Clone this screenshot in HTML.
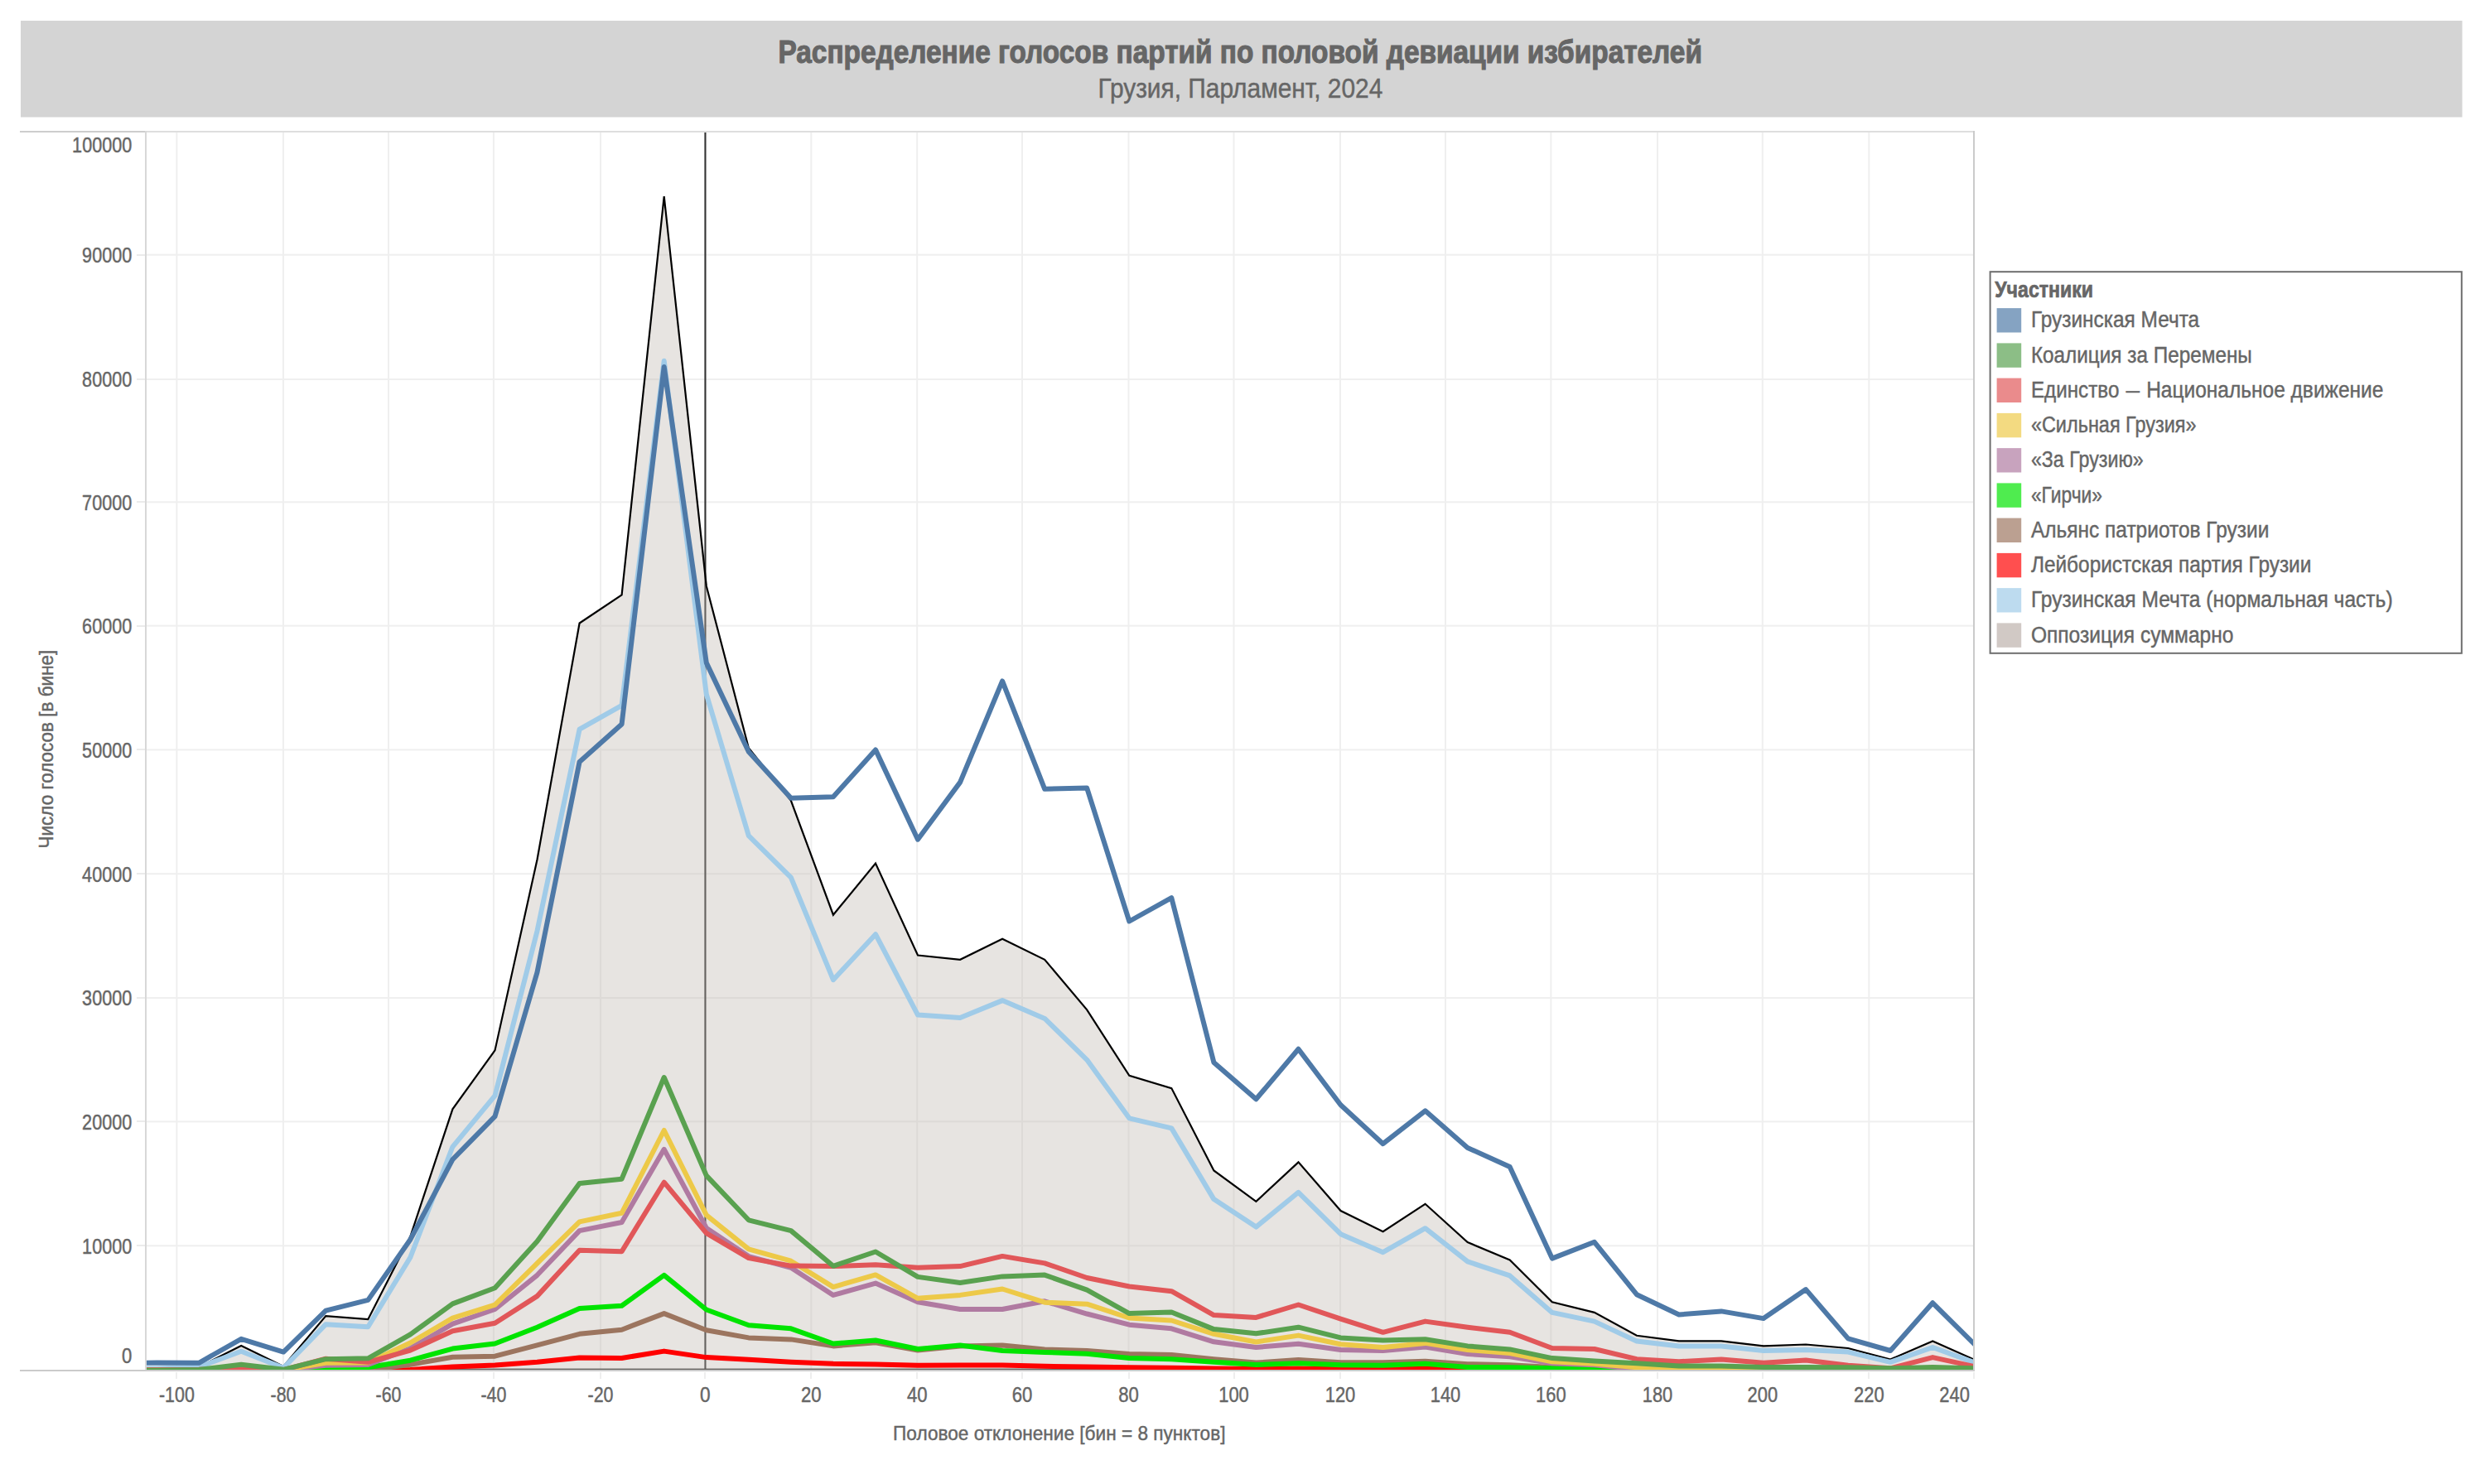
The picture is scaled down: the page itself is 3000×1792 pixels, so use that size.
<!DOCTYPE html>
<html lang="ru"><head><meta charset="utf-8"><title>Распределение голосов партий по половой девиации избирателей</title>
<style>html,body{margin:0;padding:0;background:#fff;}body{width:3000px;height:1792px;overflow:hidden;}svg{display:block;}text{font-family:"Liberation Sans", sans-serif;fill:#666666;stroke:#666666;stroke-width:0.45px;}.b{stroke-width:1.1px;}</style>
</head><body>
<svg width="3000" height="1792" viewBox="0 0 3000 1792">
<rect x="0" y="0" width="3000" height="1792" fill="#ffffff"/>
<rect x="25" y="25" width="2947.5" height="116.5" fill="#d4d4d4"/>
<text x="1497.2" y="76" class="b" font-size="38.5" font-weight="bold" text-anchor="middle" textLength="1115.5" lengthAdjust="spacingAndGlyphs">Распределение голосов партий по половой девиации избирателей</text>
<text x="1497.4" y="118.2" font-size="33.5" text-anchor="middle" textLength="344" lengthAdjust="spacingAndGlyphs">Грузия, Парламент, 2024</text>
<g id="grid">
<rect x="212.4" y="160" width="2" height="1494" fill="#efefef"/>
<rect x="341.0" y="160" width="2" height="1494" fill="#efefef"/>
<rect x="468.0" y="160" width="2" height="1494" fill="#efefef"/>
<rect x="594.9" y="160" width="2" height="1494" fill="#efefef"/>
<rect x="724.0" y="160" width="2" height="1494" fill="#efefef"/>
<rect x="978.3" y="160" width="2" height="1494" fill="#efefef"/>
<rect x="1106.2" y="160" width="2" height="1494" fill="#efefef"/>
<rect x="1233.0" y="160" width="2" height="1494" fill="#efefef"/>
<rect x="1361.5" y="160" width="2" height="1494" fill="#efefef"/>
<rect x="1488.5" y="160" width="2" height="1494" fill="#efefef"/>
<rect x="1617.0" y="160" width="2" height="1494" fill="#efefef"/>
<rect x="1744.0" y="160" width="2" height="1494" fill="#efefef"/>
<rect x="1871.4" y="160" width="2" height="1494" fill="#efefef"/>
<rect x="2000.0" y="160" width="2" height="1494" fill="#efefef"/>
<rect x="2126.8" y="160" width="2" height="1494" fill="#efefef"/>
<rect x="2255.3" y="160" width="2" height="1494" fill="#efefef"/>
<rect x="176" y="1503.3" width="2206" height="2" fill="#efefef"/>
<rect x="176" y="1353.4" width="2206" height="2" fill="#efefef"/>
<rect x="176" y="1204.1" width="2206" height="2" fill="#efefef"/>
<rect x="176" y="1054.2" width="2206" height="2" fill="#efefef"/>
<rect x="176" y="904.4" width="2206" height="2" fill="#efefef"/>
<rect x="176" y="754.6" width="2206" height="2" fill="#efefef"/>
<rect x="176" y="605.3" width="2206" height="2" fill="#efefef"/>
<rect x="176" y="457.1" width="2206" height="2" fill="#efefef"/>
<rect x="176" y="306.7" width="2206" height="2" fill="#efefef"/>
</g>
<defs><clipPath id="cp"><rect x="176.5" y="160.0" width="2205.5" height="1494.0"/></clipPath></defs>
<g clip-path="url(#cp)">
<rect x="850.4" y="158.6" width="2.1" height="1496" fill="#333333"/>
<rect x="176" y="1652.6" width="2206" height="1.4" fill="#333333"/>
<polygon points="138.0,1654.7 138.0,1652.4 189.1,1651.7 240.1,1650.9 291.2,1624.9 342.2,1649.9 393.3,1589.1 444.3,1593.2 495.4,1493.1 546.4,1339.3 597.5,1268.4 648.5,1038.0 699.6,752.5 750.6,718.4 801.7,237.2 852.8,707.7 903.8,903.3 954.9,966.8 1005.9,1104.7 1057.0,1042.5 1108.0,1153.5 1159.1,1158.8 1210.1,1133.7 1261.2,1158.8 1312.2,1219.3 1363.3,1298.9 1414.3,1314.1 1465.4,1413.5 1516.4,1450.9 1567.5,1403.4 1618.5,1462.0 1669.6,1487.2 1720.6,1453.8 1771.7,1500.1 1822.7,1521.4 1873.8,1572.3 1924.8,1584.9 1975.9,1612.8 2026.9,1619.3 2078.0,1619.3 2129.0,1625.4 2180.1,1623.5 2231.1,1628.0 2282.2,1641.5 2333.2,1619.5 2384.3,1642.1 2384.3,1654.7" fill="#bcb4ac" fill-opacity="0.36"/>
<polyline points="138.0,1652.4 189.1,1651.7 240.1,1650.9 291.2,1624.9 342.2,1649.9 393.3,1589.1 444.3,1593.2 495.4,1493.1 546.4,1339.3 597.5,1268.4 648.5,1038.0 699.6,752.5 750.6,718.4 801.7,237.2 852.8,707.7 903.8,903.3 954.9,966.8 1005.9,1104.7 1057.0,1042.5 1108.0,1153.5 1159.1,1158.8 1210.1,1133.7 1261.2,1158.8 1312.2,1219.3 1363.3,1298.9 1414.3,1314.1 1465.4,1413.5 1516.4,1450.9 1567.5,1403.4 1618.5,1462.0 1669.6,1487.2 1720.6,1453.8 1771.7,1500.1 1822.7,1521.4 1873.8,1572.3 1924.8,1584.9 1975.9,1612.8 2026.9,1619.3 2078.0,1619.3 2129.0,1625.4 2180.1,1623.5 2231.1,1628.0 2282.2,1641.5 2333.2,1619.5 2384.3,1642.1" fill="none" stroke="#000000" stroke-width="2.2" stroke-linejoin="miter"/>
<polyline points="138.0,1652.7 189.1,1652.4 240.1,1650.8 291.2,1631.7 342.2,1651.8 393.3,1599.2 444.3,1602.2 495.4,1518.3 546.4,1384.8 597.5,1323.2 648.5,1124.2 699.6,880.7 750.6,851.9 801.7,435.8 852.8,838.3 903.8,1009.2 954.9,1059.7 1005.9,1183.2 1057.0,1128.2 1108.0,1225.6 1159.1,1229.0 1210.1,1208.1 1261.2,1229.9 1312.2,1279.8 1363.3,1350.3 1414.3,1362.4 1465.4,1448.1 1516.4,1481.6 1567.5,1439.8 1618.5,1490.2 1669.6,1512.2 1720.6,1483.2 1771.7,1523.4 1822.7,1540.4 1873.8,1584.9 1924.8,1595.6 1975.9,1619.6 2026.9,1625.4 2078.0,1625.4 2129.0,1631.0 2180.1,1630.0 2231.1,1632.6 2282.2,1644.8 2333.2,1627.0 2384.3,1645.6" fill="none" stroke="#a0cbe8" stroke-width="6" stroke-linejoin="round" stroke-linecap="round"/>
<polyline points="138.0,1654.7 189.1,1654.7 240.1,1654.7 291.2,1654.7 342.2,1654.7 393.3,1654.7 444.3,1654.7 495.4,1653.9 546.4,1650.5 597.5,1648.4 648.5,1644.8 699.6,1639.5 750.6,1640.0 801.7,1631.6 852.8,1639.1 903.8,1641.8 954.9,1644.8 1005.9,1646.8 1057.0,1647.4 1108.0,1648.8 1159.1,1648.4 1210.1,1648.6 1261.2,1649.8 1312.2,1650.6 1363.3,1651.2 1414.3,1651.7 1465.4,1652.4 1516.4,1652.9 1567.5,1652.4 1618.5,1653.3 1669.6,1653.3 1720.6,1652.4 1771.7,1653.9 1822.7,1654.4 1873.8,1654.4 1924.8,1654.4 1975.9,1654.5 2026.9,1654.5 2078.0,1654.5 2129.0,1654.5 2180.1,1654.5 2231.1,1654.5 2282.2,1654.6 2333.2,1654.5 2384.3,1654.6" fill="none" stroke="#ff0000" stroke-width="6" stroke-linejoin="round" stroke-linecap="round"/>
<polyline points="138.0,1654.7 189.1,1654.7 240.1,1654.7 291.2,1654.7 342.2,1654.7 393.3,1654.7 444.3,1654.7 495.4,1647.8 546.4,1638.8 597.5,1637.7 648.5,1624.3 699.6,1610.8 750.6,1605.7 801.7,1586.1 852.8,1606.3 903.8,1615.4 954.9,1617.4 1005.9,1625.4 1057.0,1621.3 1108.0,1630.6 1159.1,1625.4 1210.1,1624.5 1261.2,1629.4 1312.2,1631.0 1363.3,1635.1 1414.3,1636.1 1465.4,1641.2 1516.4,1645.6 1567.5,1642.1 1618.5,1645.2 1669.6,1645.2 1720.6,1643.8 1771.7,1647.2 1822.7,1648.2 1873.8,1650.9 1924.8,1652.3 1975.9,1653.8 2026.9,1654.4 2078.0,1654.4 2129.0,1654.4 2180.1,1654.4 2231.1,1654.4 2282.2,1654.5 2333.2,1654.4 2384.3,1654.5" fill="none" stroke="#9c755f" stroke-width="6" stroke-linejoin="round" stroke-linecap="round"/>
<polyline points="138.0,1654.7 189.1,1654.7 240.1,1654.7 291.2,1654.7 342.2,1654.7 393.3,1650.9 444.3,1651.2 495.4,1642.7 546.4,1628.6 597.5,1622.5 648.5,1602.7 699.6,1580.0 750.6,1576.8 801.7,1539.9 852.8,1581.5 903.8,1600.3 954.9,1604.3 1005.9,1622.5 1057.0,1618.5 1108.0,1629.0 1159.1,1624.5 1210.1,1631.0 1261.2,1633.0 1312.2,1634.7 1363.3,1640.1 1414.3,1641.2 1465.4,1644.8 1516.4,1648.0 1567.5,1646.2 1618.5,1648.2 1669.6,1648.8 1720.6,1646.8 1771.7,1650.9 1822.7,1651.2 1873.8,1652.3 1924.8,1652.9 1975.9,1653.9 2026.9,1654.4 2078.0,1654.4 2129.0,1654.4 2180.1,1654.4 2231.1,1654.4 2282.2,1654.5 2333.2,1654.4 2384.3,1654.5" fill="none" stroke="#00e400" stroke-width="6" stroke-linejoin="round" stroke-linecap="round"/>
<polyline points="138.0,1654.4 189.1,1654.2 240.1,1654.1 291.2,1653.8 342.2,1654.2 393.3,1648.7 444.3,1647.9 495.4,1628.2 546.4,1598.6 597.5,1581.0 648.5,1539.8 699.6,1486.1 750.6,1476.0 801.7,1387.8 852.8,1482.9 903.8,1517.1 954.9,1530.8 1005.9,1563.9 1057.0,1549.6 1108.0,1572.3 1159.1,1581.0 1210.1,1581.0 1261.2,1571.3 1312.2,1586.5 1363.3,1599.7 1414.3,1604.3 1465.4,1620.3 1516.4,1627.0 1567.5,1622.7 1618.5,1630.0 1669.6,1631.0 1720.6,1626.6 1771.7,1635.1 1822.7,1638.2 1873.8,1646.2 1924.8,1648.2 1975.9,1653.3 2026.9,1653.8 2078.0,1653.9 2129.0,1654.1 2180.1,1654.1 2231.1,1654.2 2282.2,1654.4 2333.2,1654.1 2384.3,1654.4" fill="none" stroke="#b07aa1" stroke-width="6" stroke-linejoin="round" stroke-linecap="round"/>
<polyline points="138.0,1654.4 189.1,1654.2 240.1,1653.9 291.2,1653.2 342.2,1654.2 393.3,1645.8 444.3,1645.4 495.4,1621.5 546.4,1591.7 597.5,1575.6 648.5,1525.5 699.6,1475.4 750.6,1464.8 801.7,1365.0 852.8,1467.3 903.8,1508.3 954.9,1522.7 1005.9,1554.1 1057.0,1539.4 1108.0,1567.8 1159.1,1563.9 1210.1,1556.5 1261.2,1572.7 1312.2,1574.7 1363.3,1591.5 1414.3,1594.5 1465.4,1610.8 1516.4,1620.5 1567.5,1612.6 1618.5,1623.3 1669.6,1627.0 1720.6,1621.9 1771.7,1630.0 1822.7,1634.1 1873.8,1644.2 1924.8,1646.8 1975.9,1651.2 2026.9,1653.3 2078.0,1653.5 2129.0,1653.8 2180.1,1653.8 2231.1,1653.9 2282.2,1654.2 2333.2,1653.8 2384.3,1654.2" fill="none" stroke="#edc948" stroke-width="6" stroke-linejoin="round" stroke-linecap="round"/>
<polyline points="138.0,1654.4 189.1,1654.2 240.1,1653.8 291.2,1651.8 342.2,1654.1 393.3,1640.7 444.3,1644.8 495.4,1630.6 546.4,1607.3 597.5,1597.8 648.5,1565.1 699.6,1509.7 750.6,1511.2 801.7,1427.7 852.8,1489.2 903.8,1519.1 954.9,1528.6 1005.9,1529.1 1057.0,1527.3 1108.0,1530.8 1159.1,1529.1 1210.1,1516.9 1261.2,1525.4 1312.2,1543.0 1363.3,1553.5 1414.3,1559.2 1465.4,1588.1 1516.4,1590.9 1567.5,1575.5 1618.5,1592.6 1669.6,1608.8 1720.6,1595.6 1771.7,1602.7 1822.7,1608.8 1873.8,1628.0 1924.8,1629.0 1975.9,1641.2 2026.9,1644.2 2078.0,1641.5 2129.0,1645.8 2180.1,1642.5 2231.1,1648.8 2282.2,1652.3 2333.2,1639.1 2384.3,1650.2" fill="none" stroke="#e15759" stroke-width="6" stroke-linejoin="round" stroke-linecap="round"/>
<polyline points="138.0,1654.7 189.1,1654.7 240.1,1653.9 291.2,1647.8 342.2,1653.8 393.3,1641.2 444.3,1640.3 495.4,1611.4 546.4,1574.4 597.5,1555.2 648.5,1498.9 699.6,1428.9 750.6,1423.7 801.7,1301.0 852.8,1419.6 903.8,1473.3 954.9,1486.1 1005.9,1528.8 1057.0,1511.5 1108.0,1541.9 1159.1,1549.0 1210.1,1541.4 1261.2,1539.6 1312.2,1557.7 1363.3,1586.1 1414.3,1584.5 1465.4,1605.1 1516.4,1610.3 1567.5,1602.7 1618.5,1615.4 1669.6,1618.5 1720.6,1617.3 1771.7,1625.4 1822.7,1629.4 1873.8,1640.1 1924.8,1643.6 1975.9,1646.2 2026.9,1649.6 2078.0,1649.6 2129.0,1650.9 2180.1,1650.9 2231.1,1651.2 2282.2,1652.3 2333.2,1650.9 2384.3,1652.3" fill="none" stroke="#59a14f" stroke-width="6" stroke-linejoin="round" stroke-linecap="round"/>
<polyline points="138.0,1647.2 189.1,1645.4 240.1,1645.8 291.2,1616.8 342.2,1632.6 393.3,1582.7 444.3,1569.9 495.4,1496.7 546.4,1400.1 597.5,1348.1 648.5,1174.1 699.6,919.9 750.6,874.5 801.7,442.9 852.8,800.4 903.8,907.8 954.9,963.8 1005.9,962.3 1057.0,905.4 1108.0,1013.7 1159.1,944.6 1210.1,822.4 1261.2,952.8 1312.2,951.6 1363.3,1112.5 1414.3,1084.2 1465.4,1282.9 1516.4,1327.3 1567.5,1266.8 1618.5,1334.2 1669.6,1381.2 1720.6,1341.3 1771.7,1385.9 1822.7,1409.1 1873.8,1519.6 1924.8,1499.8 1975.9,1563.2 2026.9,1587.5 2078.0,1583.4 2129.0,1592.1 2180.1,1557.1 2231.1,1616.4 2282.2,1631.0 2333.2,1573.3 2384.3,1623.9" fill="none" stroke="#4e79a7" stroke-width="6" stroke-linejoin="round" stroke-linecap="round"/>
</g>
<g shape-rendering="crispEdges">
<rect x="176" y="158" width="2208" height="2" fill="#dedede"/>
<rect x="24" y="157.6" width="152" height="2.2" fill="#cdcdcd"/>
<rect x="174.5" y="158" width="2" height="1498" fill="#d8d8d8"/>
<rect x="2382" y="158" width="2" height="1498" fill="#cbcbcb"/>
<rect x="24" y="1654" width="2360" height="2" fill="#cbcbcb"/>
<rect x="212.4" y="1657" width="2" height="8" fill="#eeeeee"/>
<rect x="341.0" y="1657" width="2" height="8" fill="#eeeeee"/>
<rect x="468.0" y="1657" width="2" height="8" fill="#eeeeee"/>
<rect x="594.9" y="1657" width="2" height="8" fill="#eeeeee"/>
<rect x="724.0" y="1657" width="2" height="8" fill="#eeeeee"/>
<rect x="850.4" y="1657" width="2" height="8" fill="#eeeeee"/>
<rect x="978.3" y="1657" width="2" height="8" fill="#eeeeee"/>
<rect x="1106.2" y="1657" width="2" height="8" fill="#eeeeee"/>
<rect x="1233.0" y="1657" width="2" height="8" fill="#eeeeee"/>
<rect x="1361.5" y="1657" width="2" height="8" fill="#eeeeee"/>
<rect x="1488.5" y="1657" width="2" height="8" fill="#eeeeee"/>
<rect x="1617.0" y="1657" width="2" height="8" fill="#eeeeee"/>
<rect x="1744.0" y="1657" width="2" height="8" fill="#eeeeee"/>
<rect x="1871.4" y="1657" width="2" height="8" fill="#eeeeee"/>
<rect x="2000.0" y="1657" width="2" height="8" fill="#eeeeee"/>
<rect x="2126.8" y="1657" width="2" height="8" fill="#eeeeee"/>
<rect x="2255.3" y="1657" width="2" height="8" fill="#eeeeee"/>
<rect x="2382.0" y="1657" width="2" height="8" fill="#eeeeee"/>
<rect x="165" y="1503.3" width="10" height="2" fill="#ebebeb"/>
<rect x="165" y="1353.4" width="10" height="2" fill="#ebebeb"/>
<rect x="165" y="1204.1" width="10" height="2" fill="#ebebeb"/>
<rect x="165" y="1054.2" width="10" height="2" fill="#ebebeb"/>
<rect x="165" y="904.4" width="10" height="2" fill="#ebebeb"/>
<rect x="165" y="754.6" width="10" height="2" fill="#ebebeb"/>
<rect x="165" y="605.3" width="10" height="2" fill="#ebebeb"/>
<rect x="165" y="457.1" width="10" height="2" fill="#ebebeb"/>
<rect x="165" y="306.7" width="10" height="2" fill="#ebebeb"/>
</g>
<g font-size="25.4">
<text x="213.4" y="1692.6" text-anchor="middle" textLength="42.9" lengthAdjust="spacingAndGlyphs">-100</text>
<text x="342.0" y="1692.6" text-anchor="middle" textLength="30.9" lengthAdjust="spacingAndGlyphs">-80</text>
<text x="469.0" y="1692.6" text-anchor="middle" textLength="30.9" lengthAdjust="spacingAndGlyphs">-60</text>
<text x="595.9" y="1692.6" text-anchor="middle" textLength="30.9" lengthAdjust="spacingAndGlyphs">-40</text>
<text x="725.0" y="1692.6" text-anchor="middle" textLength="30.9" lengthAdjust="spacingAndGlyphs">-20</text>
<text x="851.4" y="1692.6" text-anchor="middle" textLength="12.6" lengthAdjust="spacingAndGlyphs">0</text>
<text x="979.3" y="1692.6" text-anchor="middle" textLength="24.6" lengthAdjust="spacingAndGlyphs">20</text>
<text x="1107.2" y="1692.6" text-anchor="middle" textLength="24.6" lengthAdjust="spacingAndGlyphs">40</text>
<text x="1234.0" y="1692.6" text-anchor="middle" textLength="24.6" lengthAdjust="spacingAndGlyphs">60</text>
<text x="1362.5" y="1692.6" text-anchor="middle" textLength="24.6" lengthAdjust="spacingAndGlyphs">80</text>
<text x="1489.5" y="1692.6" text-anchor="middle" textLength="36.6" lengthAdjust="spacingAndGlyphs">100</text>
<text x="1618.0" y="1692.6" text-anchor="middle" textLength="36.6" lengthAdjust="spacingAndGlyphs">120</text>
<text x="1745.0" y="1692.6" text-anchor="middle" textLength="36.6" lengthAdjust="spacingAndGlyphs">140</text>
<text x="1872.4" y="1692.6" text-anchor="middle" textLength="36.6" lengthAdjust="spacingAndGlyphs">160</text>
<text x="2001.0" y="1692.6" text-anchor="middle" textLength="36.6" lengthAdjust="spacingAndGlyphs">180</text>
<text x="2127.8" y="1692.6" text-anchor="middle" textLength="36.6" lengthAdjust="spacingAndGlyphs">200</text>
<text x="2256.3" y="1692.6" text-anchor="middle" textLength="36.6" lengthAdjust="spacingAndGlyphs">220</text>
<text x="2359.6" y="1692.6" text-anchor="middle" textLength="36.6" lengthAdjust="spacingAndGlyphs">240</text>
<text x="159.4" y="1646.3" text-anchor="end" textLength="12.3" lengthAdjust="spacingAndGlyphs">0</text>
<text x="159.4" y="1513.6" text-anchor="end" textLength="60.3" lengthAdjust="spacingAndGlyphs">10000</text>
<text x="159.4" y="1363.7" text-anchor="end" textLength="60.3" lengthAdjust="spacingAndGlyphs">20000</text>
<text x="159.4" y="1214.4" text-anchor="end" textLength="60.3" lengthAdjust="spacingAndGlyphs">30000</text>
<text x="159.4" y="1064.5" text-anchor="end" textLength="60.3" lengthAdjust="spacingAndGlyphs">40000</text>
<text x="159.4" y="914.7" text-anchor="end" textLength="60.3" lengthAdjust="spacingAndGlyphs">50000</text>
<text x="159.4" y="764.9" text-anchor="end" textLength="60.3" lengthAdjust="spacingAndGlyphs">60000</text>
<text x="159.4" y="615.6" text-anchor="end" textLength="60.3" lengthAdjust="spacingAndGlyphs">70000</text>
<text x="159.4" y="467.4" text-anchor="end" textLength="60.3" lengthAdjust="spacingAndGlyphs">80000</text>
<text x="159.4" y="317.0" text-anchor="end" textLength="60.3" lengthAdjust="spacingAndGlyphs">90000</text>
<text x="159.4" y="184.0" text-anchor="end" textLength="72.3" lengthAdjust="spacingAndGlyphs">100000</text>
</g>
<text x="1278.8" y="1739" font-size="24.5" text-anchor="middle" textLength="401.4" lengthAdjust="spacingAndGlyphs">Половое отклонение [бин = 8 пунктов]</text>
<text transform="translate(64.1,904.6) rotate(-90)" font-size="24.5" text-anchor="middle" textLength="239.8" lengthAdjust="spacingAndGlyphs">Число голосов [в бине]</text>
<rect x="2402.6" y="328.2" width="569.2" height="460.6" fill="#ffffff" stroke="#6e6e6e" stroke-width="2"/>
<text x="2408.2" y="359.3" class="b" style="stroke-width:0.7px" font-size="27" font-weight="bold" textLength="118.9" lengthAdjust="spacingAndGlyphs">Участники</text>
<rect x="2410.6" y="372.1" width="29.6" height="29.4" fill="#4e79a7" fill-opacity="0.69"/>
<text x="2451.9" y="395.4" font-size="27" textLength="203.3" lengthAdjust="spacingAndGlyphs">Грузинская Мечта</text>
<rect x="2410.6" y="414.4" width="29.6" height="29.4" fill="#59a14f" fill-opacity="0.69"/>
<text x="2451.9" y="437.7" font-size="27" textLength="266.9" lengthAdjust="spacingAndGlyphs">Коалиция за Перемены</text>
<rect x="2410.6" y="456.6" width="29.6" height="29.4" fill="#e15759" fill-opacity="0.69"/>
<text y="479.9" font-size="27"><tspan x="2451.9" textLength="106.5" lengthAdjust="spacingAndGlyphs">Единство</tspan> <tspan x="2566.6" textLength="16.6" lengthAdjust="spacingAndGlyphs">—</tspan> <tspan x="2591.2" textLength="286.2" lengthAdjust="spacingAndGlyphs">Национальное движение</tspan></text>
<rect x="2410.6" y="498.9" width="29.6" height="29.4" fill="#edc948" fill-opacity="0.69"/>
<text x="2451.9" y="522.1" font-size="27" textLength="199.7" lengthAdjust="spacingAndGlyphs">«Сильная Грузия»</text>
<rect x="2410.6" y="541.1" width="29.6" height="29.4" fill="#b07aa1" fill-opacity="0.69"/>
<text x="2451.9" y="564.4" font-size="27" textLength="135.9" lengthAdjust="spacingAndGlyphs">«За Грузию»</text>
<rect x="2410.6" y="583.4" width="29.6" height="29.4" fill="#00e400" fill-opacity="0.69"/>
<text x="2451.9" y="606.6" font-size="27" textLength="86.1" lengthAdjust="spacingAndGlyphs">«Гирчи»</text>
<rect x="2410.6" y="625.6" width="29.6" height="29.4" fill="#9c755f" fill-opacity="0.69"/>
<text x="2451.9" y="648.9" font-size="27" textLength="287.5" lengthAdjust="spacingAndGlyphs">Альянс патриотов Грузии</text>
<rect x="2410.6" y="667.9" width="29.6" height="29.4" fill="#ff0000" fill-opacity="0.69"/>
<text x="2451.9" y="691.1" font-size="27" textLength="338.5" lengthAdjust="spacingAndGlyphs">Лейбористская партия Грузии</text>
<rect x="2410.6" y="710.1" width="29.6" height="29.4" fill="#a0cbe8" fill-opacity="0.69"/>
<text x="2451.9" y="733.4" font-size="27" textLength="436.7" lengthAdjust="spacingAndGlyphs">Грузинская Мечта (нормальная часть)</text>
<rect x="2410.6" y="752.4" width="29.6" height="29.4" fill="#d1c9c5"/>
<text x="2451.9" y="775.6" font-size="27" textLength="244.6" lengthAdjust="spacingAndGlyphs">Оппозиция суммарно</text>
</svg>
</body></html>
